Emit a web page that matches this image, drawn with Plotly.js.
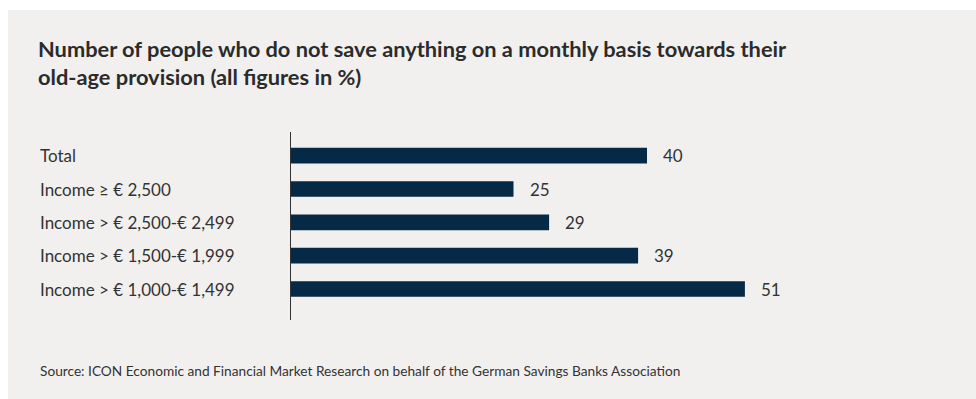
<!DOCTYPE html>
<html>
<head>
<meta charset="utf-8">
<script src="https://cdn.plot.ly/plotly-3.0.1.min.js"></script>
<style>
html,body{margin:0;padding:0;background:#ffffff;}
#chart{position:absolute;left:8px;top:10px;width:968px;height:389px;}
</style>
</head>
<body>
<div id="chart"></div>
<script>
const categories = ["Total", "Income ≥ € 2,500", "Income > € 2,500-€ 2,499", "Income > € 1,500-€ 1,999", "Income > € 1,000-€ 1,499"];
const values = [40, 25, 29, 39, 51];
const titleText = "Number of people who do not save anything on a monthly basis towards their<br>old-age provision (all figures in %)";
const sourceText = "Source: ICON Economic and Financial Market Research on behalf of the German Savings Banks Association";

const W = 968, H = 389;
const mL = 283, mT = 122, plotW = 623, plotH = 188;
const labelFont = {family: "Lato, 'Open Sans', sans-serif", size: 17, color: "#333333"};

const annotations = [];
categories.forEach((c, i) => {
  annotations.push({
    xref: "paper", yref: "y", x: (30 - mL) / plotW, y: c,
    xanchor: "left", yanchor: "middle", text: c, showarrow: false, font: labelFont
  });
  annotations.push({
    xref: "x", yref: "y", x: values[i], y: c, xshift: 14,
    xanchor: "left", yanchor: "middle", text: String(values[i]), showarrow: false, font: labelFont
  });
});
annotations.push({
  xref: "paper", yref: "paper", x: (30 - mL) / plotW, y: -(360.7 - (mT + plotH)) / plotH,
  xanchor: "left", yanchor: "middle", text: sourceText, showarrow: false,
  font: {family: "Lato, 'Open Sans', sans-serif", size: 13.7, color: "#333333"}
});

const data = [{
  type: "bar",
  orientation: "h",
  y: categories,
  x: values,
  marker: {color: "#062a45"},
  hoverinfo: "skip"
}];

const layout = {
  width: W, height: H,
  margin: {l: mL, r: W - mL - plotW, t: mT, b: H - mT - plotH, pad: 0},
  paper_bgcolor: "#f1f0ef",
  plot_bgcolor: "#f1f0ef",
  showlegend: false,
  bargap: 0.53,
  title: {
    text: titleText,
    x: 30 / W, xref: "container", xanchor: "left",
    y: 1 - 47 / H, yref: "container", yanchor: "top",
    font: {family: "Lato, 'Open Sans', sans-serif", size: 21.8, color: "#2b2b2b", weight: "bold"}
  },
  xaxis: {
    range: [0, 70], showgrid: false, zeroline: false, showticklabels: false,
    showline: false, ticks: ""
  },
  yaxis: {
    type: "category", range: [4.93, -0.71], showgrid: false, zeroline: false,
    showticklabels: false, ticks: "", showline: true, linecolor: "#333333", linewidth: 1
  },
  annotations: annotations
};

Plotly.newPlot("chart", data, layout, {staticPlot: true, displayModeBar: false});
</script>
</body>
</html>
